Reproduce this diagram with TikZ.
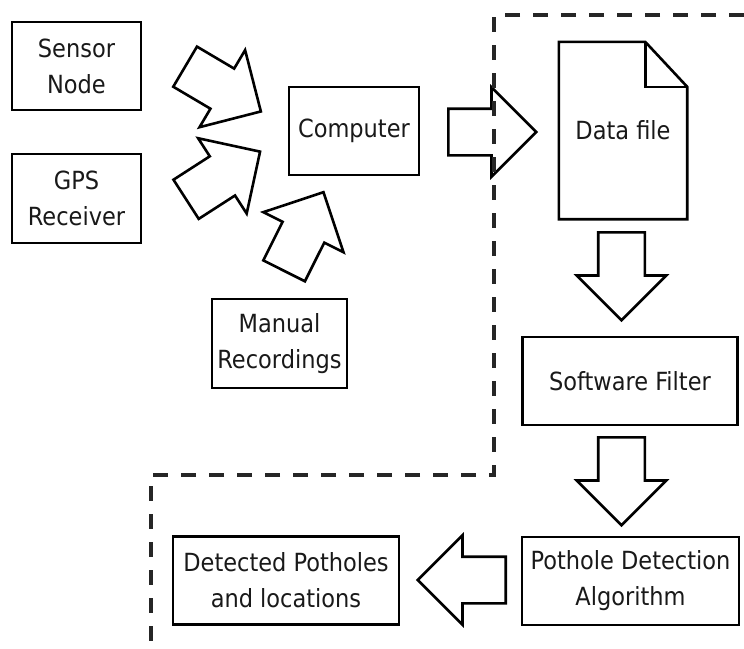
\documentclass[tikz,border=0pt]{standalone}
\usepackage{fontspec}
\setmainfont{DejaVu Sans Condensed}
\usetikzlibrary{shapes.arrows}
\begin{document}
\begin{tikzpicture}[x=1pt,y=-1pt,
  every node/.style={font=\fontsize{25}{36}\selectfont,text=black!90},
  box/.style={draw,line width=2.6pt,align=center,inner sep=0pt},
  barrow/.style={draw,line width=2.6pt,single arrow,single arrow head extend=21.5pt,
    single arrow tip angle=90,inner xsep=0pt,inner ysep=22pt,minimum height=88pt,anchor=tail},
  border/.style={dash pattern=on 15pt off 13pt,line width=3.2pt,black!85}]
\useasboundingbox (0,0) rectangle (744,648);
% boxes
\node[box,minimum width=129pt,minimum height=88pt] (sensor) at (76.5,66) {Sensor\\Node};
\node[box,minimum width=129pt,minimum height=89pt] (gps) at (76.5,198.5) {GPS\\Receiver};
\node[box,minimum width=135pt,minimum height=89pt] (manual) at (279.5,343.5) {Manual\\Recordings};
\node[box,minimum width=130pt,minimum height=88pt] (computer) at (354,131) {Computer};
\node[minimum width=128pt,minimum height=177pt,inner sep=0pt] (datafile) at (623,130.5) {Data file};
\draw[line width=2.6pt] (datafile.south west) -- (datafile.north west) -- ([xshift=-42pt]datafile.north east)
  -- ([yshift=-45pt]datafile.north east) -- (datafile.south east) -- cycle;
\draw[line width=2.6pt] ([xshift=-42pt]datafile.north east) |- ([yshift=-45pt]datafile.north east);
\node[box,minimum width=215pt,minimum height=88pt] (filter) at (630,381) {Software Filter};
\node[box,minimum width=217pt,minimum height=88pt] (detect) at (630.5,581) {Pothole Detection\\Algorithm};
\node[box,minimum width=226pt,minimum height=88pt] (result) at (286,580.5) {Detected Potholes\\and locations};
% block arrows
\node[barrow,rotate=-30.6] (a1) at (184,66) {};
\node[barrow,rotate=32.8] (a2) at (185,200) {};
\node[barrow,rotate=63.4] (a3) at (283.5,272) {};
\node[barrow] (a4) at (447,132) {};
\node[barrow,rotate=-90] (a5) at (621.5,231) {};
\node[barrow,rotate=-90] (a6) at (621.5,436) {};
\node[barrow,rotate=180] (a7) at (507,580) {};
% boundary
\draw[border] (744,15) -- (494,15) -- (494,475) -- (151,475) -- (151,648);
\end{tikzpicture}
\end{document}
